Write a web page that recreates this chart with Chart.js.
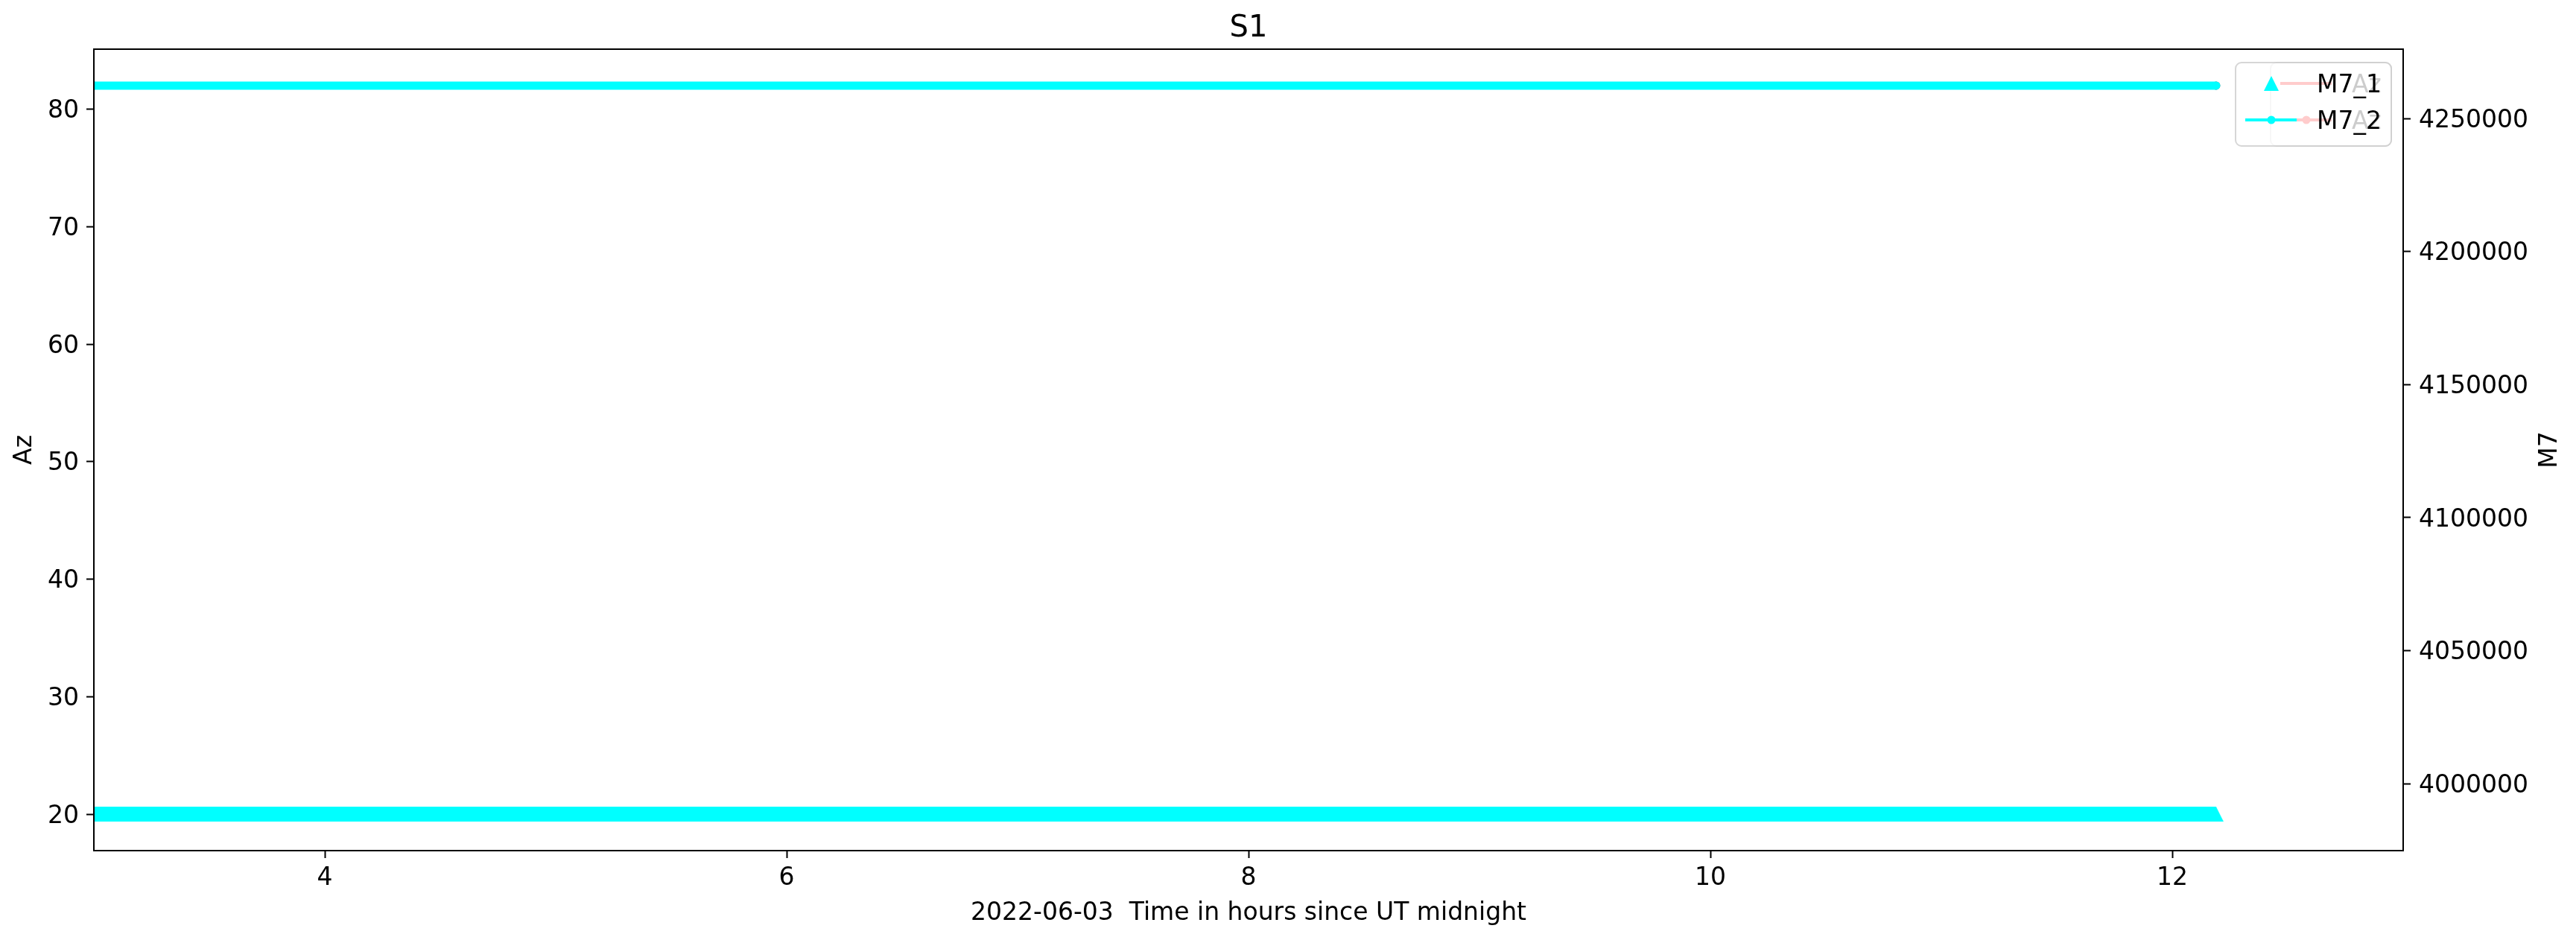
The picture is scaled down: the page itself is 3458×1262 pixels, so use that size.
<!DOCTYPE html>
<html>
<head>
<meta charset="utf-8">
<script src="https://cdn.jsdelivr.net/npm/chart.js@4.4.0/dist/chart.umd.min.js"></script>
<style>
  html, body { margin: 0; padding: 0; background: #fff; }
  canvas { display: block; }
</style>
</head>
<body>
<canvas id="chart" width="3458" height="1262"></canvas>
<script>
// data
const hours = [3.0, 12.19];            // first and last sample time
const azSeries1 = [20, 20];
const azSeries2 = [82, 82];
const m7Series1 = [3988500, 3988500];
const m7Series2 = [4262450, 4262450];

const hourTicks = [4, 6, 8, 10, 12];
const azTicks = [20, 30, 40, 50, 60, 70, 80];
const m7Ticks = [4000000, 4050000, 4100000, 4150000, 4200000, 4250000];

const CYAN = '#00ffff';
const RED = '#ff0000';
const FONT = "'DejaVu Sans', sans-serif";
const FS = 33;

function toPoints(xs, ys) {
    return xs.map((x, i) => ({ x: x, y: ys[i] }));
}

// autoscale with 5% margins like matplotlib
function padRange(arrs) {
    const all = [].concat(...arrs);
    const lo = Math.min(...all), hi = Math.max(...all);
    const m = (hi - lo) * 0.05;
    return { min: lo - m, max: hi + m };
}

// '^' marker, same width and height like matplotlib's
function triangleMarker(size, color) {
    const c = document.createElement('canvas');
    c.width = size;
    c.height = size;
    const g = c.getContext('2d');
    g.fillStyle = color;
    g.beginPath();
    g.moveTo(size / 2, 0);
    g.lineTo(size, size);
    g.lineTo(0, size);
    g.closePath();
    g.fill();
    return c;
}

const azRange = padRange([azSeries1, azSeries2]);
const m7Range = padRange([m7Series1, m7Series2]);

function roundRect(ctx, x, y, w, h, r) {
    ctx.beginPath();
    ctx.moveTo(x + r, y);
    ctx.arcTo(x + w, y, x + w, y + h, r);
    ctx.arcTo(x + w, y + h, x, y + h, r);
    ctx.arcTo(x, y + h, x, y, r);
    ctx.arcTo(x, y, x + w, y, r);
    ctx.closePath();
}

// one matplotlib style legend box
function drawLegend(ctx, x, y, w, h, rowsY, items) {
    ctx.save();
    roundRect(ctx, x, y, w, h, 8);
    ctx.fillStyle = 'rgba(255,255,255,0.8)';
    ctx.fill();
    ctx.strokeStyle = 'rgba(204,204,204,0.8)';
    ctx.lineWidth = 2;
    ctx.stroke();
    items.forEach((it, i) => {
        const cy = rowsY[i];
        if (it.line) {
            ctx.strokeStyle = it.color;
            ctx.lineWidth = 4;
            ctx.beginPath();
            ctx.moveTo(x + 13, cy);
            ctx.lineTo(x + 82, cy);
            ctx.stroke();
        }
        ctx.fillStyle = it.color;
        if (it.marker === 'dot') {
            ctx.beginPath();
            ctx.arc(x + 48, cy, 5.5, 0, Math.PI * 2);
            ctx.fill();
        } else if (it.marker === 'tri') {
            ctx.beginPath();
            ctx.moveTo(x + 48, cy - 10);
            ctx.lineTo(x + 58, cy + 10);
            ctx.lineTo(x + 38, cy + 10);
            ctx.closePath();
            ctx.fill();
        }
        ctx.fillStyle = '#000';
        ctx.font = FS + 'px ' + FONT;
        ctx.textAlign = 'left';
        ctx.textBaseline = 'middle';
        ctx.fillText(it.label, x + 109, cy + 3);
    });
    ctx.restore();
}

const framePlugin = {
    id: 'frame',
    afterDatasetsDraw(chart) {
        const ctx = chart.ctx, a = chart.chartArea;
        ctx.save();
        ctx.strokeStyle = '#000';
        ctx.lineWidth = 2;
        ctx.strokeRect(a.left, a.top, a.right - a.left, a.bottom - a.top);
        // right axis label reads bottom to top, as in matplotlib
        ctx.translate(chart.width - 35, (a.top + a.bottom) / 2);
        ctx.rotate(-Math.PI / 2);
        ctx.fillStyle = '#000';
        ctx.font = FS + 'px ' + FONT;
        ctx.textAlign = 'center';
        ctx.textBaseline = 'middle';
        ctx.fillText('M7', 0, 0);
        ctx.restore();
    },
    afterDraw(chart) {
        const ctx = chart.ctx, a = chart.chartArea;
        const ds = chart.data.datasets;
        const top = a.top + 18, h = 112, right = a.right - 16;
        const rows = [top + 28, top + 77];
        // legend of the left axis, partly hidden under the one of the right axis
        drawLegend(ctx, right - 162, top, 162, h, rows, [
            { label: ds[2].label, color: RED, line: true },
            { label: ds[3].label, color: RED, line: true, marker: 'dot' }
        ]);
        drawLegend(ctx, right - 209, top, 209, h, rows, [
            { label: ds[0].label, color: CYAN, line: false, marker: 'tri' },
            { label: ds[1].label, color: CYAN, line: true, marker: 'dot' }
        ]);
    }
};

function fixTicks(list) {
    return function (scale) {
        scale.ticks = list.map(v => ({ value: v }));
    };
}

const tickFont = { family: FONT, size: FS };
const tickGrid = { drawOnChartArea: false, tickLength: 10, tickWidth: 2, tickColor: '#000' };

new Chart(document.getElementById('chart').getContext('2d'), {
    type: 'line',
    data: {
        datasets: [
            {
                label: 'M7_1',
                yAxisID: 'y1',
                data: toPoints(hours, m7Series1),
                borderColor: CYAN,
                backgroundColor: CYAN,
                borderWidth: 20,
                borderCapStyle: 'butt',
                pointStyle: triangleMarker(20, CYAN),
                pointRadius: 10,
                order: 1,
                clip: 0
            },
            {
                label: 'M7_2',
                yAxisID: 'y1',
                data: toPoints(hours, m7Series2),
                borderColor: CYAN,
                backgroundColor: CYAN,
                borderWidth: 11,
                borderCapStyle: 'round',
                pointRadius: 5.5,
                pointBorderWidth: 0,
                order: 1,
                clip: 0
            },
            {
                label: 'Az',
                yAxisID: 'y',
                data: toPoints(hours, azSeries1),
                borderColor: RED,
                borderWidth: 4,
                pointRadius: 0,
                order: 2,
                clip: 0
            },
            {
                label: 'Az',
                yAxisID: 'y',
                data: toPoints(hours, azSeries2),
                borderColor: RED,
                backgroundColor: RED,
                borderWidth: 4,
                pointRadius: 5.5,
                pointBorderWidth: 0,
                order: 2,
                clip: 0
            }
        ]
    },
    options: {
        responsive: false,
        animation: false,
        layout: { padding: 0 },
        plugins: {
            legend: { display: false },
            tooltip: { enabled: false },
            title: {
                display: true,
                fullSize: false,
                text: 'S1',
                color: '#000',
                font: { family: FONT, size: 40, weight: 'normal' },
                padding: { top: 15, bottom: 3 }
            }
        },
        scales: {
            x: {
                type: 'linear',
                min: 3,
                max: 13,
                afterBuildTicks: fixTicks(hourTicks),
                afterFit: s => { s.height = 120; },
                grid: tickGrid,
                border: { display: false },
                ticks: { font: tickFont, color: '#000', padding: 8, maxRotation: 0 },
                title: {
                    display: true,
                    text: '2022-06-03  Time in hours since UT midnight',
                    color: '#000',
                    font: tickFont,
                    padding: { top: 0, bottom: 16 }
                }
            },
            y: {
                position: 'left',
                min: azRange.min,
                max: azRange.max,
                afterBuildTicks: fixTicks(azTicks),
                afterFit: s => { s.width = 126; },
                grid: tickGrid,
                border: { display: false },
                ticks: { font: tickFont, color: '#000', padding: 10, labelOffset: 3, callback: v => String(v) },
                title: {
                    display: true,
                    text: 'Az',
                    color: '#000',
                    font: tickFont,
                    padding: { top: 14, bottom: 0 }
                }
            },
            y1: {
                position: 'right',
                min: m7Range.min,
                max: m7Range.max,
                afterBuildTicks: fixTicks(m7Ticks),
                afterFit: s => { s.width = 232; },
                grid: tickGrid,
                border: { display: false },
                ticks: { font: tickFont, color: '#000', padding: 11, labelOffset: 3, callback: v => String(v) }
            }
        }
    },
    plugins: [framePlugin]
});
</script>
</body>
</html>
